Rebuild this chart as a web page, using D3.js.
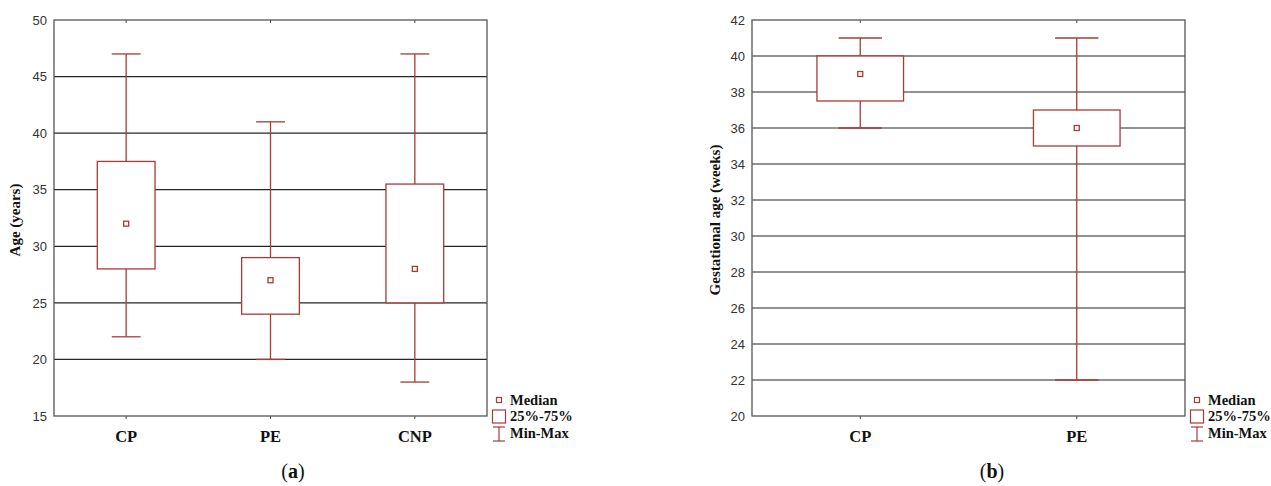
<!DOCTYPE html>
<html><head><meta charset="utf-8">
<script src="https://cdn.jsdelivr.net/npm/d3@7"></script>
<style>body{margin:0;background:#fff}svg{display:block}</style>
</head><body>
<svg id="c" width="1271" height="486"></svg>
<script>
// Panel (a): maternal age
const catsA = ["CP", "PE", "CNP"];
const minA = [22, 20, 18];
const q1A = [28, 24, 25];
const medA = [32, 27, 28];
const q3A = [37.5, 29, 35.5];
const maxA = [47, 41, 47];
const ticksA = [15, 20, 25, 30, 35, 40, 45, 50];
// Panel (b): gestational age
const catsB = ["CP", "PE"];
const minB = [36, 22];
const q1B = [37.5, 35];
const medB = [39, 36];
const q3B = [40, 37];
const maxB = [41, 41];
const ticksB = [20, 22, 24, 26, 28, 30, 32, 34, 36, 38, 40, 42];
const legendLabels = ["Median", "25%-75%", "Min-Max"];

const RED = "#a83a3a";
const svg = d3.select("#c");

function panel(o) {
  const g = svg.append("g");
  const x = d3.scaleBand().domain(o.cats).range([o.left, o.right]);
  const y = d3.scaleLinear().domain([o.ticks[0], o.ticks[o.ticks.length - 1]]).range([o.bottom, o.top]);
  // gridlines
  g.selectAll("line.grid").data(o.ticks.slice(1, -1)).join("line")
    .attr("x1", o.left).attr("x2", o.right)
    .attr("y1", d => y(d)).attr("y2", d => y(d))
    .attr("stroke", "#262626").attr("stroke-width", 1.2);
  // y axis labels
  const ax = d3.axisLeft(y).tickValues(o.ticks).tickSize(0).tickPadding(7);
  const ag = g.append("g").attr("transform", `translate(${o.left},0)`).call(ax);
  ag.select(".domain").remove();
  ag.selectAll("text").attr("font-family", "Liberation Sans, Arial, sans-serif")
    .attr("font-size", 13).attr("fill", "#333");
  // x axis labels
  const bx = d3.axisBottom(x).tickSize(0).tickPadding(14);
  const bg = g.append("g").attr("transform", `translate(0,${o.bottom})`).call(bx);
  bg.select(".domain").remove();
  bg.selectAll("text").attr("font-family", "Liberation Serif, Times New Roman, serif")
    .attr("font-weight", "bold").attr("font-size", 16.5).attr("fill", "#111");
  // small category ticks top & bottom
  o.cats.forEach(c => {
    const cx = x(c) + x.bandwidth() / 2;
    g.append("line").attr("x1", cx).attr("x2", cx).attr("y1", o.top).attr("y2", o.top + 3).attr("stroke", "#444");
    g.append("line").attr("x1", cx).attr("x2", cx).attr("y1", o.bottom).attr("y2", o.bottom + 3).attr("stroke", "#444");
  });
  // frame
  g.append("rect").attr("x", o.left).attr("y", o.top)
    .attr("width", o.right - o.left).attr("height", o.bottom - o.top)
    .attr("fill", "none").attr("stroke", "#555").attr("stroke-width", 1.3);
  // boxes
  const bw = x.bandwidth() * 0.4;
  o.cats.forEach((c, i) => {
    const cx = x(c) + x.bandwidth() / 2;
    const bb = g.append("g").attr("stroke", RED).attr("stroke-width", 1.3);
    bb.append("line").attr("x1", cx).attr("x2", cx).attr("y1", y(o.max[i])).attr("y2", y(o.q3[i]));
    bb.append("line").attr("x1", cx).attr("x2", cx).attr("y1", y(o.q1[i])).attr("y2", y(o.min[i]));
    bb.append("line").attr("x1", cx - bw / 4).attr("x2", cx + bw / 4).attr("y1", y(o.max[i])).attr("y2", y(o.max[i]));
    bb.append("line").attr("x1", cx - bw / 4).attr("x2", cx + bw / 4).attr("y1", y(o.min[i])).attr("y2", y(o.min[i]));
    bb.append("rect").attr("x", cx - bw / 2).attr("y", y(o.q3[i]))
      .attr("width", bw).attr("height", y(o.q1[i]) - y(o.q3[i])).attr("fill", "#fff");
    bb.append("rect").attr("x", cx - 2.5).attr("y", y(o.med[i]) - 2.5)
      .attr("width", 5).attr("height", 5).attr("fill", "#fff");
  });
  // y title
  g.append("text").attr("transform", `translate(${o.titleX},${(o.top + o.bottom) / 2 + 2}) rotate(-90)`)
    .attr("text-anchor", "middle").attr("dominant-baseline", "middle")
    .attr("font-family", "Liberation Serif, Times New Roman, serif").attr("font-weight", "bold")
    .attr("font-size", 15).attr("fill", "#111").text(o.title);
  // legend
  const lx = o.right + 12;
  const lg = g.append("g").attr("stroke", RED).attr("stroke-width", 1.2).attr("fill", "#fff");
  lg.append("rect").attr("x", lx - 2.5).attr("y", 397.5).attr("width", 5).attr("height", 5);
  lg.append("rect").attr("x", lx - 6.5).attr("y", 410).attr("width", 13).attr("height", 13);
  lg.append("line").attr("x1", lx).attr("x2", lx).attr("y1", 427).attr("y2", 441);
  lg.append("line").attr("x1", lx - 6).attr("x2", lx + 6).attr("y1", 427).attr("y2", 427);
  lg.append("line").attr("x1", lx - 6).attr("x2", lx + 6).attr("y1", 441).attr("y2", 441);
  g.selectAll("text.leg").data(legendLabels).join("text")
    .attr("x", o.right + 23).attr("y", (d, i) => 404.5 + i * 16.5)
    .attr("font-family", "Liberation Serif, Times New Roman, serif").attr("font-weight", "bold")
    .attr("font-size", 14.5).attr("fill", "#111").text(d => d);
  // caption
  const cap = g.append("text").attr("x", o.capX).attr("y", 478).attr("text-anchor", "middle")
    .attr("font-family", "Liberation Serif, Times New Roman, serif").attr("font-size", 20).attr("fill", "#111");
  cap.append("tspan").text("(");
  cap.append("tspan").attr("font-weight", "bold").text(o.cap);
  cap.append("tspan").text(")");
}

panel({cats: catsA, min: minA, q1: q1A, med: medA, q3: q3A, max: maxA, ticks: ticksA,
  left: 54, right: 487, top: 20, bottom: 416, title: "Age (years)", titleX: 17, cap: "a", capX: 293});
panel({cats: catsB, min: minB, q1: q1B, med: medB, q3: q3B, max: maxB, ticks: ticksB,
  left: 752, right: 1185, top: 20, bottom: 416, title: "Gestational age (weeks)", titleX: 717, cap: "b", capX: 992});
</script>
</body></html>
